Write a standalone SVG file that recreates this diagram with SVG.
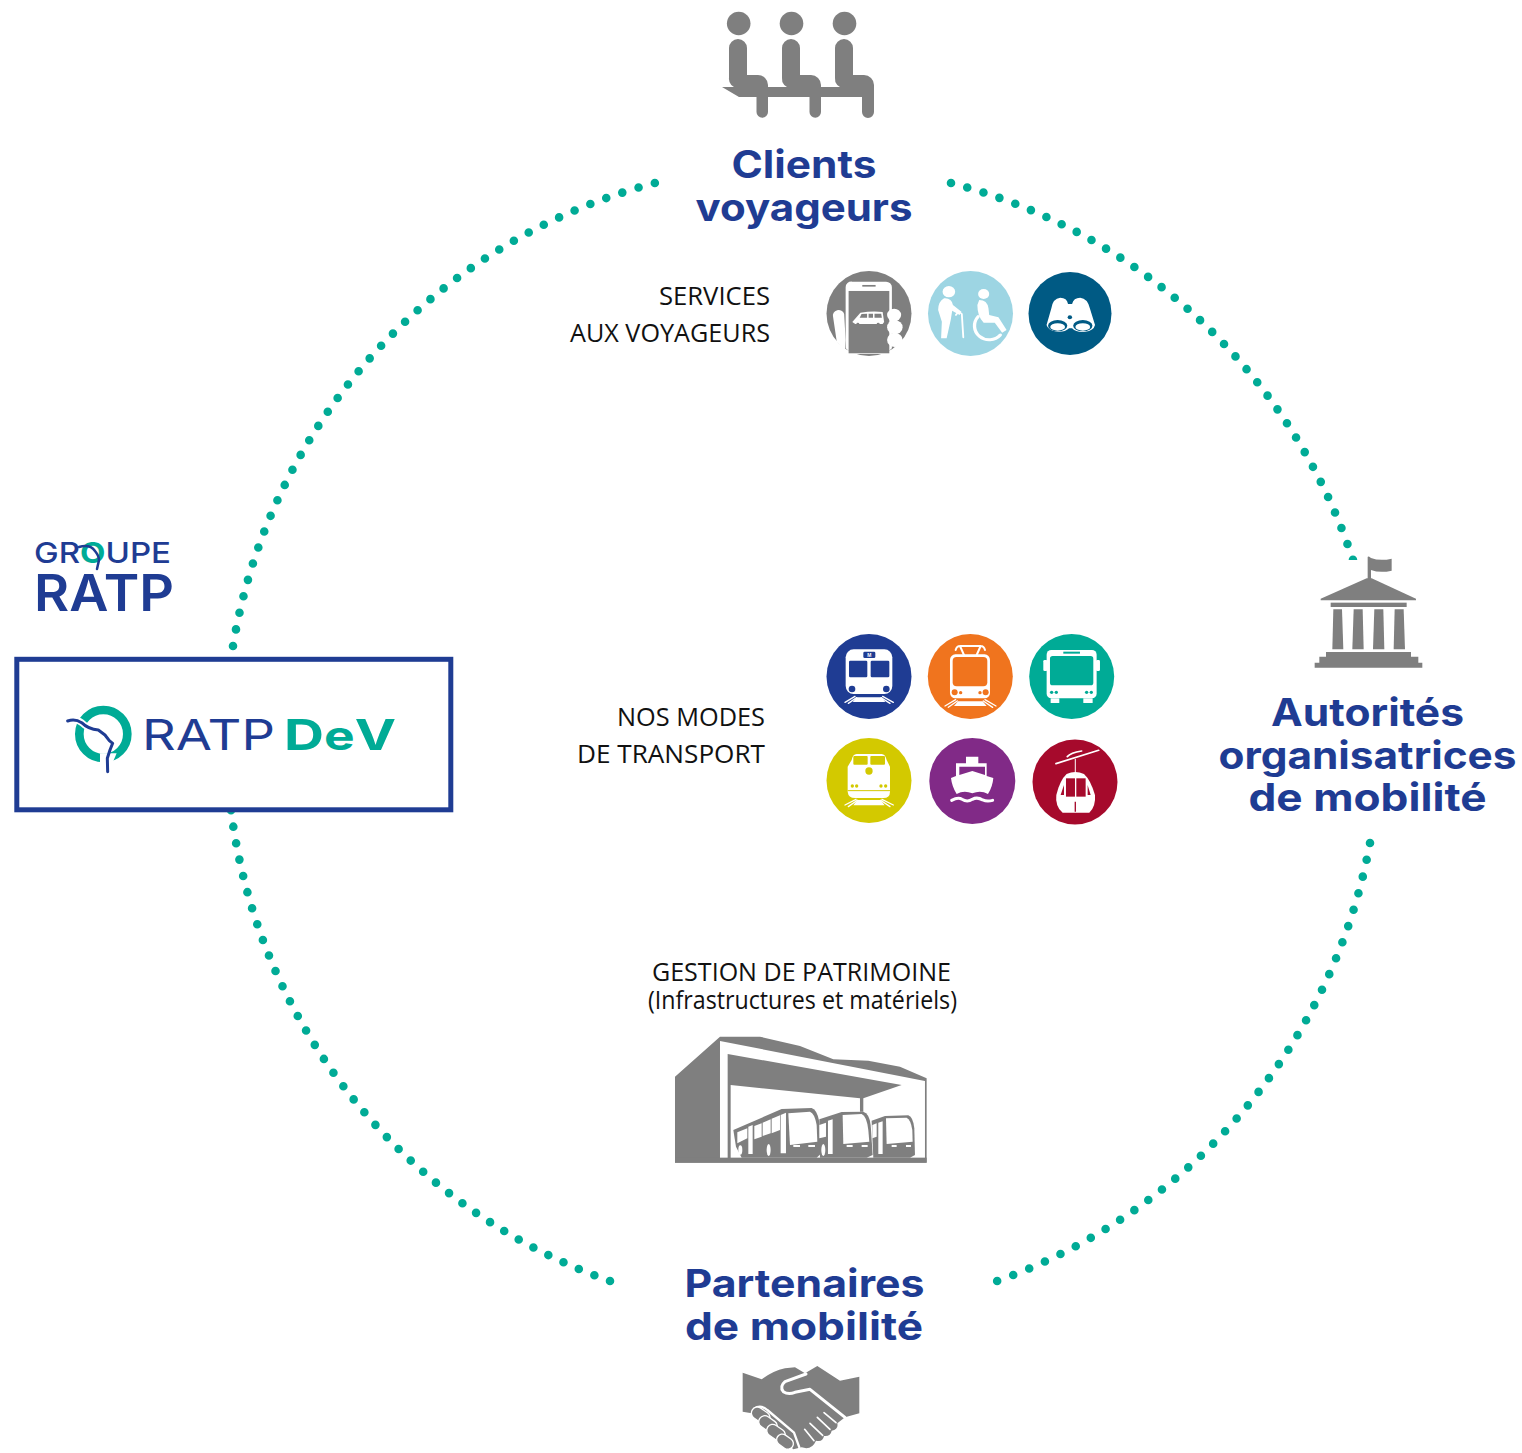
<svg xmlns="http://www.w3.org/2000/svg" width="1522" height="1453" viewBox="0 0 1522 1453">
<style>
.t{font-family:"Inter","Liberation Sans",sans-serif;font-weight:700;font-size:38px;fill:#1f3c93;text-anchor:middle}
.l{font-family:"Open Sans","Liberation Sans",sans-serif;font-size:25px;fill:#111;text-anchor:end}
.c{text-anchor:middle}
.g{fill:#7f7f7f}
.w{fill:#fff}
.ws{fill:none;stroke:#fff;stroke-linecap:round;stroke-linejoin:round}
.dots{fill:none;stroke:#00ab96;stroke-width:8.6;stroke-linecap:round;stroke-dasharray:0 1}
</style>
<rect width="1522" height="1453" fill="#fff"/>
<g id="connectors">
<path class="dots" pathLength="39.01" d="M233,646A575,575 0 0 1 655,183"/>
<path class="dots" pathLength="34.01" d="M951,183A575,575 0 0 1 1353,560"/>
<path class="dots" pathLength="35.01" d="M1370,843A575,575 0 0 1 997,1281"/>
<path class="dots" pathLength="38.01" d="M610,1281A575,575 0 0 1 231,810"/>
</g>
<g id="clients">
<g class="g">
<circle cx="738.7" cy="23.5" r="11.8"/><circle cx="791.5" cy="23.5" r="11.8"/><circle cx="844.5" cy="23.5" r="11.8"/>
<path d="M729,48a9,9 0 0 1 18,0V75H758a10,10 0 0 1 10,10V88H738a9,9 0 0 1 -9,-10Z"/>
<path d="M782,48a9,9 0 0 1 18,0V75H811a10,10 0 0 1 10,10V88H791a9,9 0 0 1 -9,-10Z"/>
<path d="M835,48a9,9 0 0 1 18,0V75H864a10,10 0 0 1 10,10V88H844a9,9 0 0 1 -9,-10Z"/>
<path d="M722,87H874V112a5.500,5.500 0 0 1 -12,0V97H821V112a5.500,5.500 0 0 1 -11.500,0V97H768V112a5.500,5.500 0 0 1 -11.500,0V97H739Z"/>
</g>
<text class="t" x="804" y="178" textLength="145" lengthAdjust="spacingAndGlyphs">Clients</text>
<text class="t" x="804" y="221" textLength="217" lengthAdjust="spacingAndGlyphs">voyageurs</text>
</g>
<g id="services">
<text class="l" x="770" y="305" textLength="111" lengthAdjust="spacingAndGlyphs">SERVICES</text>
<text class="l" x="770" y="342" textLength="200" lengthAdjust="spacingAndGlyphs">AUX VOYAGEURS</text>
<circle cx="869" cy="313.500" r="42.500" fill="#7f7f7f"/>
<circle cx="970.500" cy="313.500" r="42.500" fill="#9dd5e3"/>
<circle cx="1070" cy="313.500" r="41.500" fill="#005a84"/>
<g transform="translate(560,0) scale(.37,.3333)">
<path class="w" d="M790,845H880a16,16 0 0 1 17,17V1045L880,1062H790L772,1045V862a16,16 0 0 1 18,-17Z"/>
<rect class="g" x="780" y="873" width="110" height="187"/>
<rect class="g" x="817" y="855" width="36" height="5"/>
<path class="w" d="M738,950a15,15 0 0 1 30,-8L772,1020L770,1050L748,1025Z"/>
<circle class="w" cx="903" cy="945" r="19"/><circle class="w" cx="905" cy="982" r="21"/><circle class="w" cx="905" cy="1020" r="21"/>
<path class="w" d="M790,966L812,938Q845,932 872,936L876,966L872,972H798Z"/>
<path fill="#7f7f7f" d="M815,942L830,941V953H810ZM834,941H846V953H834ZM850,941H868L870,953H850Z"/>
<circle class="g" cx="805" cy="972" r="4"/><circle class="g" cx="860" cy="972" r="4"/>
<circle class="w" cx="1051" cy="875" r="17"/>
<path class="w" d="M1038,895Q1058,893 1062,915L1085,935L1080,945L1060,932L1056,960L1045,1015H1030L1032,965L1022,930Q1022,905 1038,895Z"/>
<path class="ws" stroke-width="5" d="M1070,945Q1078,932 1086,942L1090,1012"/>
<circle class="w" cx="1145" cy="882" r="15"/>
<path class="w" d="M1133,900Q1155,900 1158,925L1160,945L1185,952L1207,990L1195,998L1175,968H1145Q1128,950 1128,915Z"/>
<path class="ws" stroke-width="9" d="M1130,950A34,36 0 1 0 1190,1005"/>
<path class="w" d="M1315,975L1328,925Q1332,895 1352,893Q1370,893 1373,912H1384Q1388,893 1406,893Q1426,895 1432,925L1446,975A34,25 0 0 1 1384,985H1376A34,25 0 0 1 1315,975Z"/>
<ellipse cx="1345" cy="977" rx="26" ry="17" fill="#005a84"/>
<ellipse cx="1413" cy="977" rx="26" ry="17" fill="#005a84"/>
<ellipse cx="1345" cy="981" rx="20" ry="11" fill="#fff"/>
<ellipse cx="1413" cy="981" rx="20" ry="11" fill="#fff"/>
<circle cx="1378" cy="952" r="6" fill="#005a84"/>
</g>
</g>
<g id="modes">
<text class="l" x="765" y="726" textLength="148" lengthAdjust="spacingAndGlyphs">NOS MODES</text>
<text class="l" x="765" y="763" textLength="188" lengthAdjust="spacingAndGlyphs">DE TRANSPORT</text>
<circle cx="869" cy="676.500" r="42.500" fill="#1f3c93"/>
<circle cx="970.300" cy="676.500" r="42.500" fill="#f0741e"/>
<circle cx="1071.700" cy="676.500" r="42.500" fill="#00ab96"/>
<circle cx="869" cy="780.500" r="42.500" fill="#d3c900"/>
<circle cx="972.300" cy="781" r="43" fill="#812a87"/>
<circle cx="1075" cy="782" r="42.500" fill="#a60a2c"/>
<g transform="translate(810,620) scale(.3333)">
<rect class="w" x="107" y="88" width="140" height="134" rx="24"/>
<rect x="117" y="122" width="55" height="50" rx="4" fill="#1f3c93"/><rect x="182" y="122" width="56" height="50" rx="4" fill="#1f3c93"/>
<rect x="160" y="95" width="36" height="19" rx="4" fill="#1f3c93"/><text x="178" y="110" font-family="Liberation Sans,sans-serif" font-size="15" font-weight="700" fill="#fff" text-anchor="middle">M</text>
<circle cx="126" cy="207" r="10" fill="#1f3c93"/><circle cx="229" cy="207" r="10" fill="#1f3c93"/>
<path class="w" d="M140,232H215L226,246H128Z"/>
<path class="ws" stroke-width="4" d="M105,247L135,229M115,250L140,233M250,247L218,229M240,250L213,233"/>
<path class="ws" stroke-width="6" d="M437,90Q440,78 450,78H512Q522,78 525,90M450,78L462,105M512,78L500,105"/>
<rect class="w" x="420" y="103" width="120" height="132" rx="16"/>
<rect x="428" y="111" width="104" height="88" rx="12" fill="#f0741e"/>
<circle cx="434" cy="217" r="9" fill="#f0741e"/><circle cx="452" cy="218" r="5" fill="#f0741e"/><circle cx="510" cy="218" r="5" fill="#f0741e"/><circle cx="527" cy="217" r="9" fill="#f0741e"/>
<path class="w" d="M444,244H518L530,258H432Z"/>
<path class="ws" stroke-width="4" d="M405,258L437,239M415,262L442,243M558,258L525,239M548,262L520,243"/>
<rect class="w" x="710" y="90" width="150" height="145" rx="14"/>
<rect class="w" x="700" y="120" width="12" height="33" rx="4"/><rect class="w" x="858" y="120" width="12" height="33" rx="4"/>
<rect class="w" x="722" y="235" width="26" height="14"/><rect class="w" x="820" y="235" width="28" height="14"/>
<rect x="720" y="108" width="130" height="88" rx="8" fill="#00ab96"/>
<rect x="760" y="95" width="50" height="6" fill="#00ab96"/>
<circle cx="725" cy="217" r="5" fill="#00ab96"/><circle cx="739" cy="217" r="5" fill="#00ab96"/><circle cx="830" cy="217" r="5" fill="#00ab96"/><circle cx="844" cy="217" r="5" fill="#00ab96"/>
<path class="w" d="M140,402H215Q226,402 230,420L240,440V515Q240,534 220,534H135Q115,534 113,515V440L125,420Q128,402 140,402Z"/>
<rect x="130" y="408" width="43" height="26" rx="3" fill="#d3c900"/><rect x="181" y="408" width="44" height="26" rx="3" fill="#d3c900"/>
<circle cx="177" cy="453" r="11" fill="#d3c900"/>
<circle cx="127" cy="498" r="5" fill="#d3c900"/><circle cx="140" cy="498" r="5" fill="#d3c900"/><circle cx="213" cy="498" r="5" fill="#d3c900"/><circle cx="227" cy="498" r="5" fill="#d3c900"/>
<path d="M113,512H240" stroke="#d3c900" stroke-width="3"/>
<path class="w" d="M142,540H212L224,556H130Z"/>
<path class="ws" stroke-width="4" d="M105,555L138,538M115,560L142,541M250,555L216,538M240,560L212,541"/>
<path class="w" d="M468,410H505V430H530V468L550,474Q548,500 534,522Q512,510 487,520Q462,510 440,522Q426,500 423,474L438,468V430H468Z"/>
<path fill="#812a87" d="M448,440H525V465L487,453L448,465Z"/>
<path class="ws" stroke-width="9" d="M425,541Q445,530 456,538Q472,548 487,538Q502,530 518,540Q532,546 548,541"/>
<path class="ws" stroke-width="5" d="M738,431L866,391M772,410Q782,398 815,393"/>
<path class="ws" stroke-width="3" d="M796,418V455"/>
<path class="w" d="M770,462Q796,450 822,462Q842,480 855,525Q858,560 838,578H758Q735,560 739,525Q750,480 770,462Z"/>
<rect x="768" y="475" width="27" height="55" fill="#a60a2c"/><rect x="799" y="475" width="28" height="55" fill="#a60a2c"/>
<path d="M752,525L762,495V525ZM842,525L833,495V525Z" fill="#a60a2c"/>
<path d="M796,545V575" stroke="#a60a2c" stroke-width="4"/>
</g>
</g>
<g id="ratp-dev">
<rect x="16.800" y="659.300" width="434" height="150.500" fill="#fff" stroke="#1f3c93" stroke-width="5"/>
<g transform="translate(0,530) scale(.3333)">
<circle cx="310" cy="612" r="72" fill="none" stroke="#00ab96" stroke-width="26"/>
<path fill="#fff" d="M300,670L350,670L335,705L300,705Z"/>
<path fill="none" stroke="#fff" stroke-width="20" stroke-linecap="butt" d="M215,573Q225,565 245,578Q265,598 295,600"/>
<path fill="none" stroke="#1f3c93" stroke-width="9" stroke-linecap="round" stroke-linejoin="round" d="M203,573Q225,565 245,578Q265,598 295,600L315,615L328,632L338,640L330,660L322,685L323,725"/>
</g>
<text x="142" y="750" font-family="Inter,'Liberation Sans',sans-serif" font-size="43" font-weight="400" fill="#1f3c93" textLength="133" lengthAdjust="spacingAndGlyphs">RATP</text>
<text x="284" y="750" font-family="Inter,'Liberation Sans',sans-serif" font-size="43" font-weight="700" fill="#00ab96" textLength="112" lengthAdjust="spacingAndGlyphs">D<tspan font-size="40">e</tspan>V</text>
</g>
<g id="groupe-ratp">
<text x="34" y="563" font-family="Inter,'Liberation Sans',sans-serif" font-size="29" font-weight="500" fill="#1f3c93" textLength="137" lengthAdjust="spacingAndGlyphs">GR<tspan fill="#00ab96" font-weight="700">O</tspan>UPE</text>
<path fill="none" stroke="#1f3c93" stroke-width="2.500" stroke-linecap="round" d="M79,547Q90,544 95,551Q99,556 99,560L97,569"/>
<text x="34" y="611" font-family="Inter,'Liberation Sans',sans-serif" font-size="51" font-weight="600" fill="#1f3c93" textLength="140" lengthAdjust="spacingAndGlyphs">RATP</text>
</g>
<g id="autorites">
<g transform="translate(1300,550) scale(.3333)">
<rect x="125" y="30" width="60" height="30" fill="#fff"/>
<g class="g">
<path d="M62,146L200,85H215L348,146V151H62Z"/>
<path d="M203,22Q203,18 208,20L213,24Q240,34 275,26V62Q240,70 213,60V88H203Z"/>
<rect x="92" y="158" width="228" height="13"/>
<path d="M100,178H126L130,298H97Z"/><path d="M161,178H188L191,298H157Z"/><path d="M223,178H250L253,298H219Z"/><path d="M284,178H311L315,298H281Z"/>
<path d="M78,306H333V320H355V338H367V353H44V338H58V320H78Z"/>
</g>
</g>
<text class="t" x="1367.500" y="726" textLength="193" lengthAdjust="spacingAndGlyphs">Autorités</text>
<text class="t" x="1367.500" y="769" textLength="298" lengthAdjust="spacingAndGlyphs">organisatrices</text>
<text class="t" x="1367.500" y="811" textLength="238" lengthAdjust="spacingAndGlyphs">de mobilité</text>
</g>
<g id="patrimoine">
<text class="l c" x="801.500" y="981" textLength="299" lengthAdjust="spacingAndGlyphs">GESTION DE PATRIMOINE</text>
<text class="l c" x="802.500" y="1009" textLength="309" lengthAdjust="spacingAndGlyphs">(Infrastructures et matériels)</text>
<g transform="translate(660,1030) scale(.3333)">
<path class="g" d="M45,140L180,20H300L420,48L520,88L625,92L720,110L800,145V398H45Z"/>
<path class="w" d="M180,33L795,153V385H180Z"/>
<path class="g" d="M203,72L725,165L610,205V245H600V205L212,165V385H203Z"/>
<rect class="g" x="45" y="383" width="755" height="15"/>
<g>
<path class="g" d="M220,300L365,237L455,234Q472,240 478,275L482,372L470,383H245L228,350Z"/>
<path class="w" d="M385,250L450,245Q464,250 470,285L472,335L390,345Z"/>
<path class="w" d="M283,288L305,280V320L283,328ZM308,278L332,268V310L308,318ZM335,266L360,256V300L335,310ZM232,307L262,295V325L232,340Z"/>
<path class="w" d="M265,290V372H278V285ZM362,255V370H378V248Z"/>
<rect class="w" x="400" y="345" width="20" height="6"/><rect class="w" x="445" y="345" width="20" height="6"/>
<ellipse class="w" cx="241" cy="360" rx="6" ry="14"/><ellipse class="w" cx="326" cy="360" rx="6" ry="18"/>
</g>
<g>
<path class="g" d="M478,268L545,246L610,245Q628,250 632,285L638,375L620,383H480Z"/>
<path class="w" d="M548,255L605,252Q620,258 625,300L628,335L550,342Z"/>
<path class="w" d="M478,285L498,278V320L478,325ZM504,272V372H518V268Z"/>
<rect class="w" x="560" y="345" width="18" height="6"/><rect class="w" x="605" y="345" width="18" height="6"/>
<ellipse class="w" cx="490" cy="360" rx="6" ry="18"/>
</g>
<g>
<path class="g" d="M635,272L675,258L745,256Q760,262 763,295L765,375L750,383H640Z"/>
<path class="w" d="M678,265L740,263Q752,268 757,300L758,335L680,342Z"/>
<path class="w" d="M637,285L650,280V320L637,325ZM655,278V372H668V274Z"/>
<rect class="w" x="695" y="345" width="15" height="6"/><rect class="w" x="738" y="345" width="15" height="6"/>
</g>
</g>
</g>
<g id="partenaires">
<text class="t" x="804.500" y="1297" textLength="240" lengthAdjust="spacingAndGlyphs">Partenaires</text>
<text class="t" x="804" y="1340" textLength="238" lengthAdjust="spacingAndGlyphs">de mobilité</text>
<g transform="translate(730,1360) scale(.3333)">
<path class="g" d="M38,38L95,58Q130,32 165,25L195,22L225,40L262,18L330,62L388,50V160L345,172L322,190Q326,208 305,212Q302,230 282,228Q278,248 258,242Q245,272 215,262L190,268L160,240L100,190L65,160L38,155Z"/>
<path class="ws" stroke-width="9" d="M228,42L165,65Q148,80 160,95Q175,105 195,97L240,88L345,172"/>
<path class="ws" stroke-width="5" d="M318,188L282,158M300,208L262,172M278,226L240,190M252,242L224,208"/>
<path class="ws" stroke-width="7" d="M72,146Q92,132 112,150L192,218L208,262"/>
<g class="g" stroke="#fff" stroke-width="4">
<rect x="62" y="148" width="60" height="36" rx="18" transform="rotate(35 92 166)"/>
<rect x="84" y="174" width="60" height="36" rx="18" transform="rotate(35 114 192)"/>
<rect x="108" y="200" width="60" height="36" rx="18" transform="rotate(35 138 218)"/>
<rect x="138" y="228" width="54" height="34" rx="17" transform="rotate(35 165 245)"/>
</g>
</g>
</g>
</svg>
